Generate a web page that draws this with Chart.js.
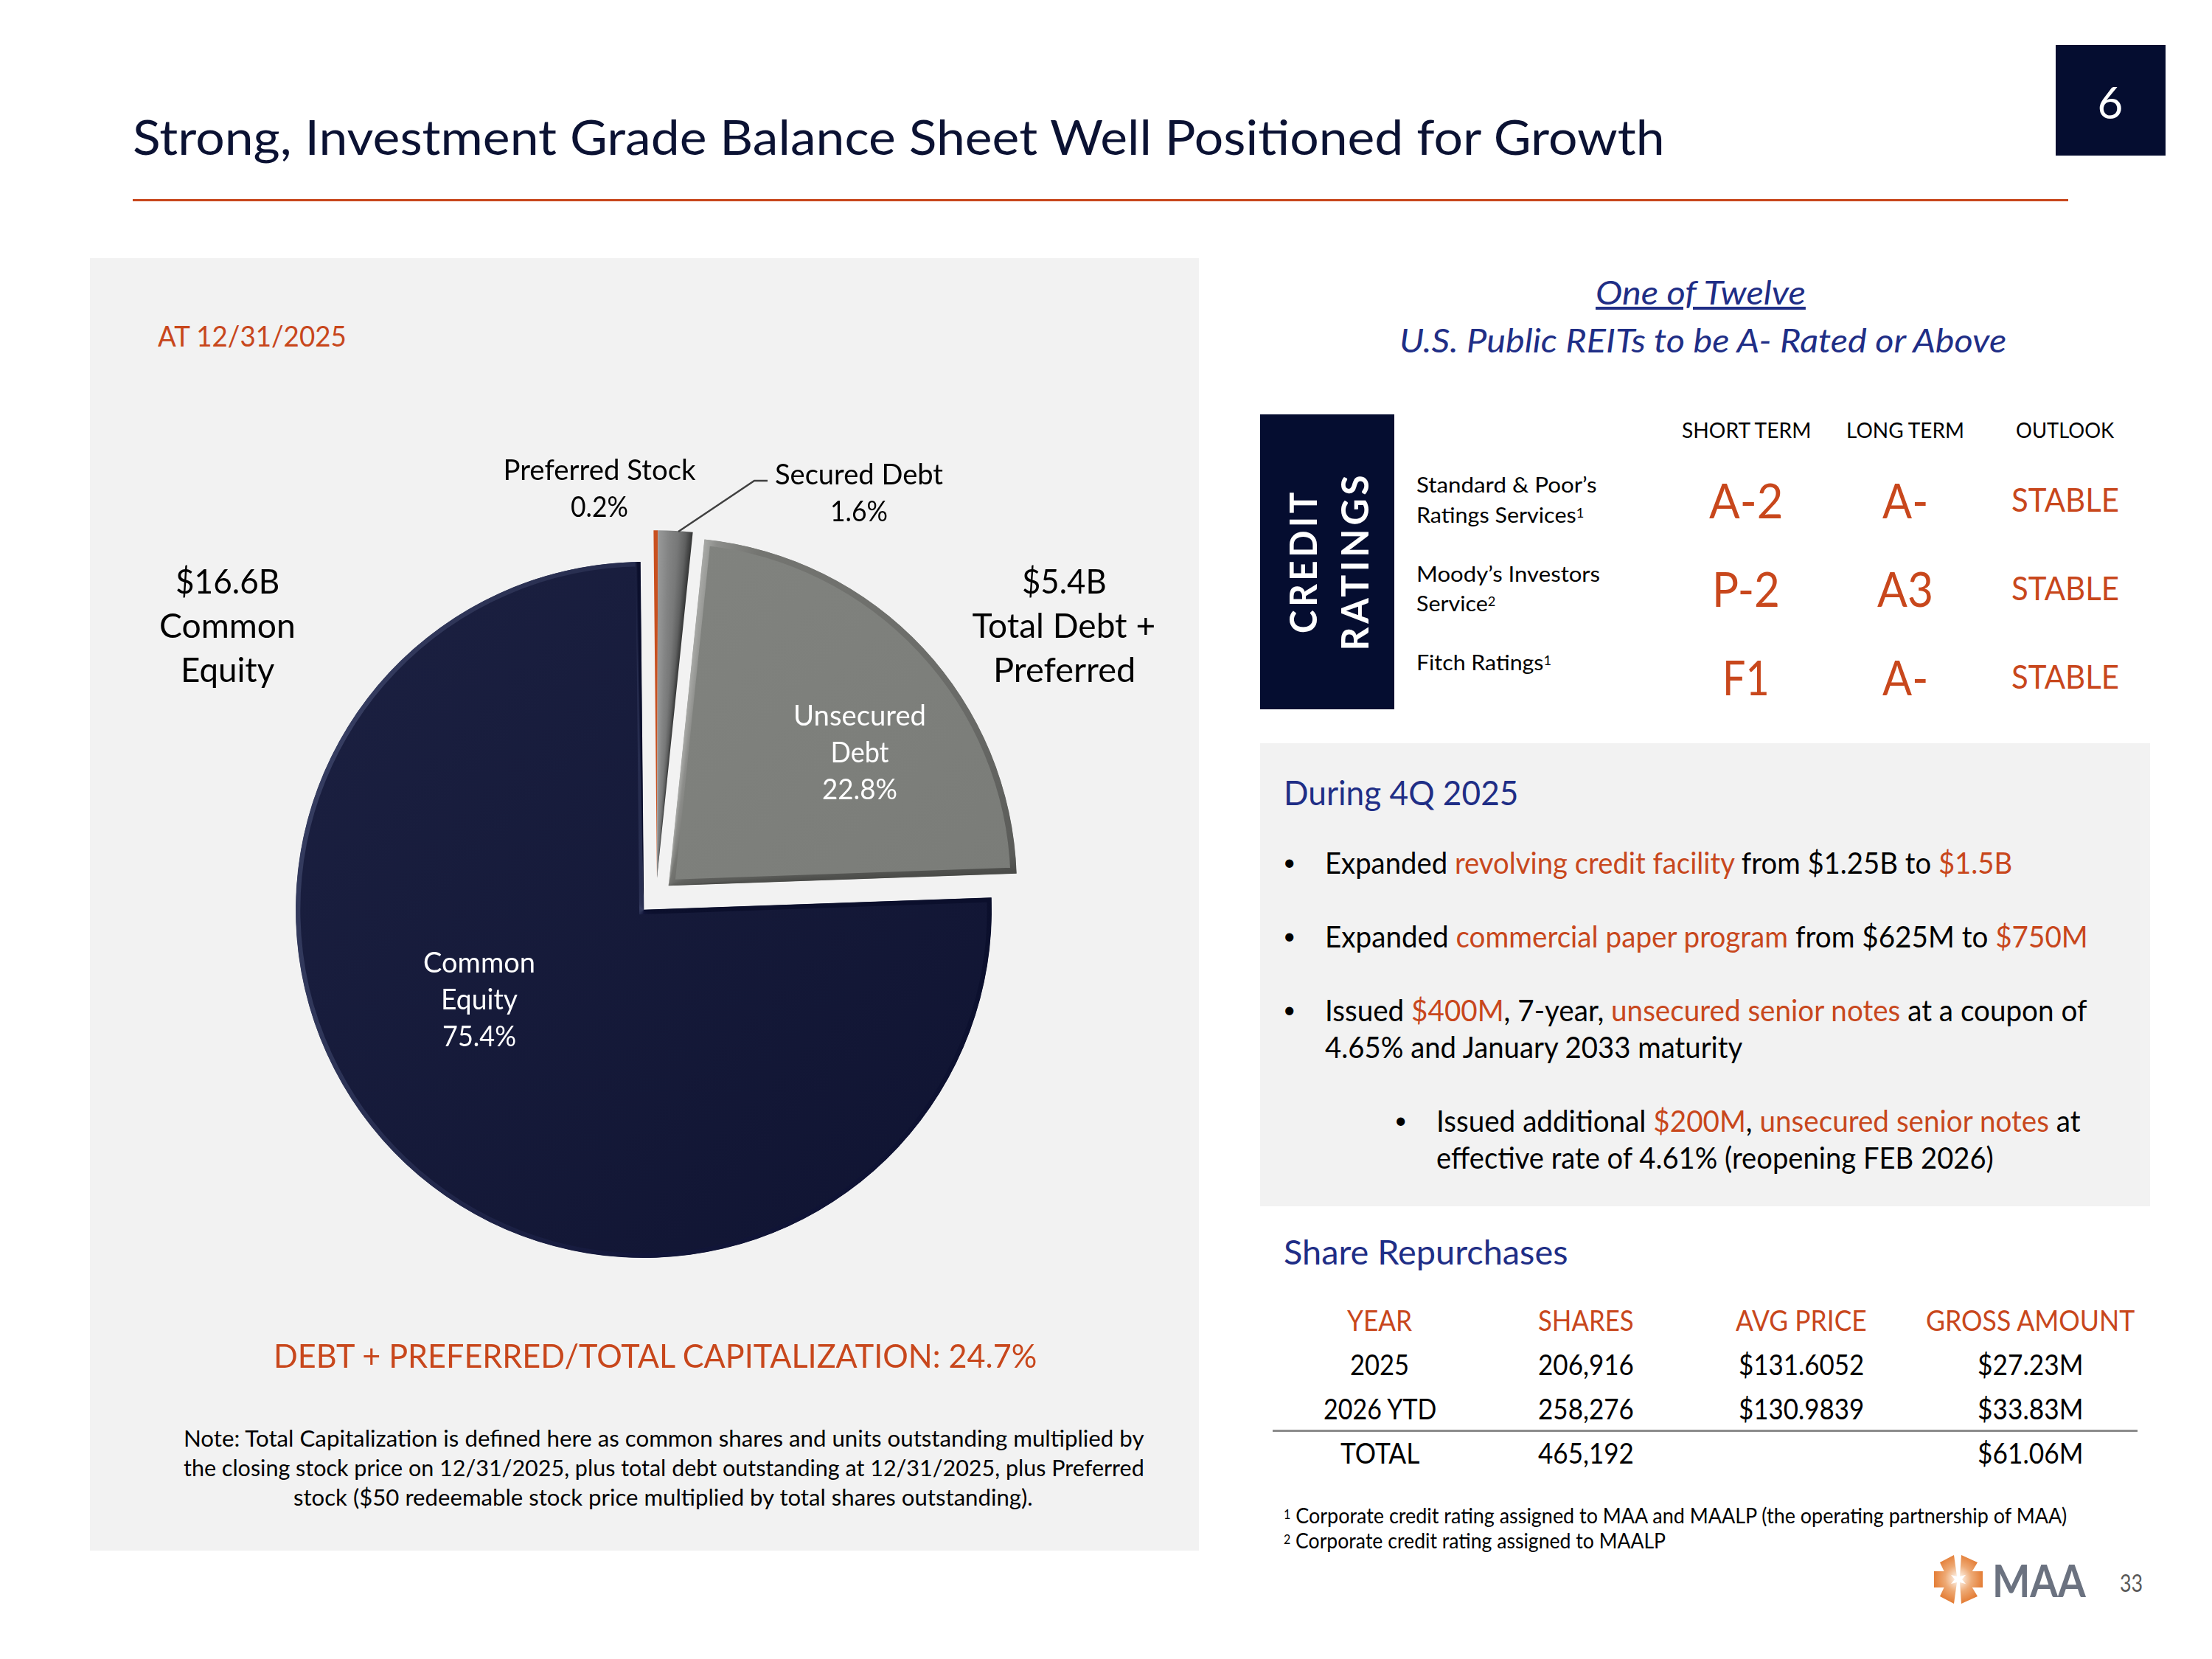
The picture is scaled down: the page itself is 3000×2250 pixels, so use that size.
<!DOCTYPE html>
<html><head><meta charset="utf-8">
<script src="https://cdn.jsdelivr.net/npm/chart.js@4"></script>
<style>
html,body{margin:0;padding:0;background:#fff;width:3000px;height:2250px;overflow:hidden}
#page{position:relative;width:3000px;height:2250px;font-family:Lato,Carlito,sans-serif;overflow:hidden}
.t{position:absolute;white-space:nowrap;line-height:1;transform-origin:0 50%}
.box{position:absolute}
.o{color:#c8471c}
sup{font-size:.6em;line-height:0;vertical-align:baseline;position:relative;top:-.38em}
canvas{position:absolute}
</style></head><body><div id="page">
<div class="box" style="left:122px;top:350px;width:1504px;height:1753px;background:#f2f2f2"></div>
<div class="box" style="left:1709px;top:1008px;width:1207px;height:628px;background:#f2f2f2"></div>
<div class="box" style="left:2788px;top:61px;width:149px;height:150px;background:#050d30"></div>
<div class="box" style="left:180px;top:270px;width:2625px;height:3px;background:#c8471c"></div>
<div class="box" style="left:1709px;top:562px;width:182px;height:400px;background:#050d30"></div>
<div class="box" style="left:1726px;top:1939px;width:1173px;height:3px;background:#8c8c8c"></div>
<canvas id="pie" width="1300" height="1300" style="left:223px;top:584px;width:1300px;height:1300px"></canvas>
<svg class="box" style="left:2615px;top:2100px" width="82" height="82" viewBox="-41 -41 82 82">
 <defs><radialGradient id="lg" gradientUnits="userSpaceOnUse" cx="0" cy="0" r="36"><stop offset="0.08" stop-color="#fdf3ea"/><stop offset="0.5" stop-color="#eeaa75"/><stop offset="1" stop-color="#e2762c"/></radialGradient></defs>
 <g fill="url(#lg)">
  <polygon points="33,-10 33,12 14,12 5,1 14,-10"/><polygon points="-33,-10 -33,12 -14,12 -5,1 -14,-10"/>
  <polygon points="-2,-3 -6,-32 -25,-22 -18,-7"/><polygon points="2,-3 4,-32 26,-22 17,-7"/>
  <polygon points="-2,5 -6,34 -25,24 -18,9"/><polygon points="2,5 4,34 26,24 17,9"/>
 </g>
</svg>
</div>
<script>
// ---- chart data ----
const categories = ["Common Equity","Preferred Stock","Secured Debt","Unsecured Debt"];
const labelLines = [["Common","Equity"],["Preferred Stock"],["Secured Debt"],["Unsecured","Debt"]];
const capitalShare = [75.4,0.2,1.6,22.8];
// ---- table / text data ----
const ratingHeaders = ["SHORT TERM","LONG TERM","OUTLOOK"];
const shortTerm = ["A-2","P-2","F1"];
const longTerm = ["A-","A3","A-"];
const outlook = ["STABLE","STABLE","STABLE"];
const repurchaseHeaders = ["YEAR","SHARES","AVG PRICE","GROSS AMOUNT"];
const repurchaseYears = ["2025","2026 YTD","TOTAL"];
const repurchaseShares = ["206,916","258,276","465,192"];
const repurchasePrice = ["$131.6052","$130.9839",""];
const repurchaseGross = ["$27.23M","$33.83M","$61.06M"];

// ---- slide text ----
const page = document.getElementById('page');
function T(html,o){
  const e=document.createElement('div');e.className='t';e.innerHTML=html;
  e.style.fontSize=o.s+'px';e.style.color=o.c||'#000';
  if(o.b)e.style.fontWeight=o.b; if(o.i)e.style.fontStyle='italic'; if(o.ls)e.style.letterSpacing=o.ls+'px';
  if(o.u)e.style.textDecoration='underline';
  page.appendChild(e);
  const mw=e.offsetWidth, sx=o.w?o.w/mw:1, w=mw*sx;
  const left=o.a==='c'?o.x-w/2:o.a==='r'?o.x-w:o.x;
  e.style.left=left+'px';e.style.top=(o.y-e.offsetHeight/2)+'px';
  e.style.transform='scaleX('+sx+')';
  return e;
}
const NAVY='#0b1233',OR='#c8471c',BL='#1f2e86';
T('Strong, Investment Grade Balance Sheet Well Positioned for Growth',{x:180,y:185,s:66,w:2078,c:NAVY});
T('6',{x:2862,y:138,a:'c',s:60,c:'#fff'});
T('AT 12/31/2025',{x:214,y:455,s:38,w:256,c:OR});
[['$16.6B',788,141],['Common',848,185],['Equity',908,127]].forEach(a=>T(a[0],{x:308,y:a[1],a:'c',s:46,w:a[2]}));
[['$5.4B',788,115],['Total Debt +',848,249],['Preferred',908,193]].forEach(a=>T(a[0],{x:1443,y:a[1],a:'c',s:46,w:a[2]}));
T('DEBT + PREFERRED/TOTAL CAPITALIZATION: 24.7%',{x:371,y:1838,s:44,w:1035,c:OR});
[['Note: Total Capitalization is defined here as common shares and units outstanding multiplied by',1950,249,1303],
 ['the closing stock price on 12/31/2025, plus total debt outstanding at 12/31/2025, plus Preferred',1990,249,1303],
 ['stock ($50 redeemable stock price multiplied by total shares outstanding).',2030,398,1003]]
 .forEach(a=>T(a[0],{x:a[2],y:a[1],s:30,w:a[3]}));

T('One of Twelve',{x:2164,y:396,s:44,w:285,c:BL,i:1,u:1});
T('U.S. Public REITs to be A- Rated or Above',{x:1898,y:461,s:44,w:823,c:BL,i:1});

const headX=[2368,2584,2800], headW=[175,160,133];
ratingHeaders.forEach((h,i)=>T(h,{x:headX[i],y:582,a:'c',s:29,w:headW[i]}));
[['Standard &amp; Poor’s',656,245],['Ratings Services<sup>1</sup>',697,227],['Moody’s Investors',777,249],['Service<sup>2</sup>',817,107],['Fitch Ratings<sup>1</sup>',897,183]]
 .forEach(a=>T(a[0],{x:1921,y:a[1],s:29,w:a[2]}));
const rowY=[678,798,918];
const stW={'A-2':100,'P-2':92,'F1':64}, ltW={'A-':62,'A3':76};
shortTerm.forEach((v,i)=>T(v,{x:headX[0],y:rowY[i],a:'c',s:66,w:stW[v],c:OR}));
longTerm.forEach((v,i)=>T(v,{x:headX[1],y:rowY[i],a:'c',s:66,w:ltW[v],c:OR}));
outlook.forEach((v,i)=>T(v,{x:2801,y:rowY[i]-1,a:'c',s:44,w:146,c:OR}));
// rotated block title
[['CREDIT',1766,196],['RATINGS',1836,243]].forEach(a=>{
  const e=document.createElement('div');e.className='t';e.textContent=a[0];
  e.style.cssText+=';font-size:52px;font-weight:700;color:#fff;letter-spacing:5px;';
  page.appendChild(e);
  const w=e.offsetWidth,h=e.offsetHeight;
  e.style.left=(a[1]-w/2)+'px';e.style.top=(761-h/2)+'px';
  e.style.transformOrigin='50% 50%';
  e.style.transform='rotate(-90deg) scaleX('+(a[2]/w)+')';
});

T('During 4Q 2025',{x:1741,y:1075,s:46,w:318,c:BL});
const bullets=[
 ['Expanded <span class=o>revolving credit facility</span> from $1.25B to <span class=o>$1.5B</span>',1797,1170,932,1],
 ['Expanded <span class=o>commercial paper program</span> from $625M to <span class=o>$750M</span>',1797,1270,1035,1],
 ['Issued <span class=o>$400M</span>, 7-year, <span class=o>unsecured senior notes</span> at a coupon of',1797,1370,1033,1],
 ['4.65% and January 2033 maturity',1797,1420,566,0],
 ['Issued additional <span class=o>$200M</span>, <span class=o>unsecured senior notes</span> at',1948,1520,874,1],
 ['effective rate of 4.61% (reopening FEB 2026)',1948,1570,756,0]];
bullets.forEach(a=>{T(a[0],{x:a[1],y:a[2],s:40,w:a[3]}); if(a[4])T('•',{x:a[1]-57,y:a[2]-2,s:30});});

T('Share Repurchases',{x:1741,y:1698,s:46,w:385,c:BL});
const colX=[1871,2151,2443,2753], tblY=[1850,1910,1970];
const hdrW=[88,130,178,283];
repurchaseHeaders.forEach((h,i)=>T(h,{x:colX[i],y:1790,a:'c',s:38,w:hdrW[i],c:OR}));
const cols=[repurchaseYears,repurchaseShares,repurchasePrice,repurchaseGross];
const cw=[[80,153,107],[130,130,130],[170,170,0],[143,143,143]];
cols.forEach((col,c)=>col.forEach((v,r)=>{ if(v) T(v,{x:colX[c],y:tblY[r],a:'c',s:38,w:cw[c][r]}); }));
T('<sup>1</sup> Corporate credit rating assigned to MAA and MAALP (the operating partnership of MAA)',{x:1741,y:2055,s:28,w:1062});
T('<sup>2</sup> Corporate credit rating assigned to MAALP',{x:1741,y:2089,s:28,w:518});
T('MAA',{x:2702,y:2142,s:62,w:127,c:'#6b7280',b:700});
T('33',{x:2875,y:2147,s:32,w:31,c:'#595959'});

// ---- pie ----
const canvas=document.getElementById('pie'), g=canvas.getContext('2d');
const C=650, R=472;
const sliceShift=[[0,0],[18,-43],[18,-43],[34,-33]];
const lin=(x0,y0,x1,y1,a,b)=>{const l=g.createLinearGradient(x0,y0,x1,y1);l.addColorStop(0,a);l.addColorStop(1,b);return l;};
const cone=(i,stops)=>{const c=g.createConicGradient(-Math.PI/2,C+sliceShift[i][0],C+sliceShift[i][1]);
  stops.forEach(s=>c.addColorStop(s[0]/360,s[1]));return c;};
const fills=[
 lin(C-R,C-R,C+R,C+R,'#1c2142','#0f1331'),
 '#c9501f',
 cone(2,[[0,'#9a9b9b'],[2,'#838484'],[3.5,'#777878'],[4.8,'#5f6060'],[5.9,'#343535'],[360,'#343535']]),
 lin(C,C-R,C+R,C,'#81837f','#7a7c78')];
const rims=[
 cone(0,[[0,'#1c2142'],[88,'#0b0f2c'],[180,'#12163a'],[250,'#30375a'],[300,'#363d61'],[345,'#2a3052'],[358.5,'#262c4e'],[359,'#0b0f2c'],[360,'#0b0f2c']]),
 '#c9501f',
 '#777878',
 cone(3,[[0,'#a6a7a4'],[6,'#a6a7a4'],[8,'#8c8d8a'],[15,'#747571'],[60,'#696a67'],[85,'#5a5b58'],[88,'#4a4b48'],[360,'#4a4b48']])];
const rimWidth=[6,0,0,8];
// label anchors relative to the pie centre, in page pixels; widths are the drawn line widths
const labelAt=[[-223,73],[-60,-595],[292,-589],[293,-262]];
const labelW=[[152,104,100],[261,78],[228,78],[180,79,102]];
const insideLabel=[true,false,false,true];

const deckPlugin={
 id:'deck',
 afterDatasetsUpdate(chart){
  chart.getDatasetMeta(0).data.forEach((arc,i)=>{arc.x+=sliceShift[i][0];arc.y+=sliceShift[i][1];});
 },
 afterDatasetsDraw(chart){
  const c=chart.ctx;
  c.save();
  c.textAlign='center';c.textBaseline='middle';
  c.strokeStyle='#404040';c.lineWidth=2.5;c.beginPath();
  c.moveTo(C+47,C-513);c.lineTo(C+150,C-582);c.lineTo(C+168,C-582);c.stroke();
  capitalShare.forEach((v,i)=>{
   const pos=labelAt[i];
   const lines=labelLines[i].concat(v.toFixed(1)+'%');
   c.fillStyle=insideLabel[i]?'#ffffff':'#000000';
   c.font='38px Lato';
   lines.forEach((s,k)=>{
    c.save();
    c.translate(C+pos[0],C+pos[1]+k*50);
    c.scale(labelW[i][k]/c.measureText(s).width,1);
    c.fillText(s,0,0);
    c.restore();
   });
  });
  c.restore();
 }
};
new Chart(canvas,{
 type:'pie',
 data:{labels:categories,datasets:[{data:capitalShare,backgroundColor:fills,borderColor:rims,borderWidth:rimWidth,borderAlign:'inner',borderJoinStyle:'miter'}]},
 options:{responsive:false,animation:false,devicePixelRatio:1,rotation:88,radius:R,
  layout:{padding:0},plugins:{legend:{display:false},tooltip:{enabled:false}}},
 plugins:[deckPlugin]
});
</script></body></html>
